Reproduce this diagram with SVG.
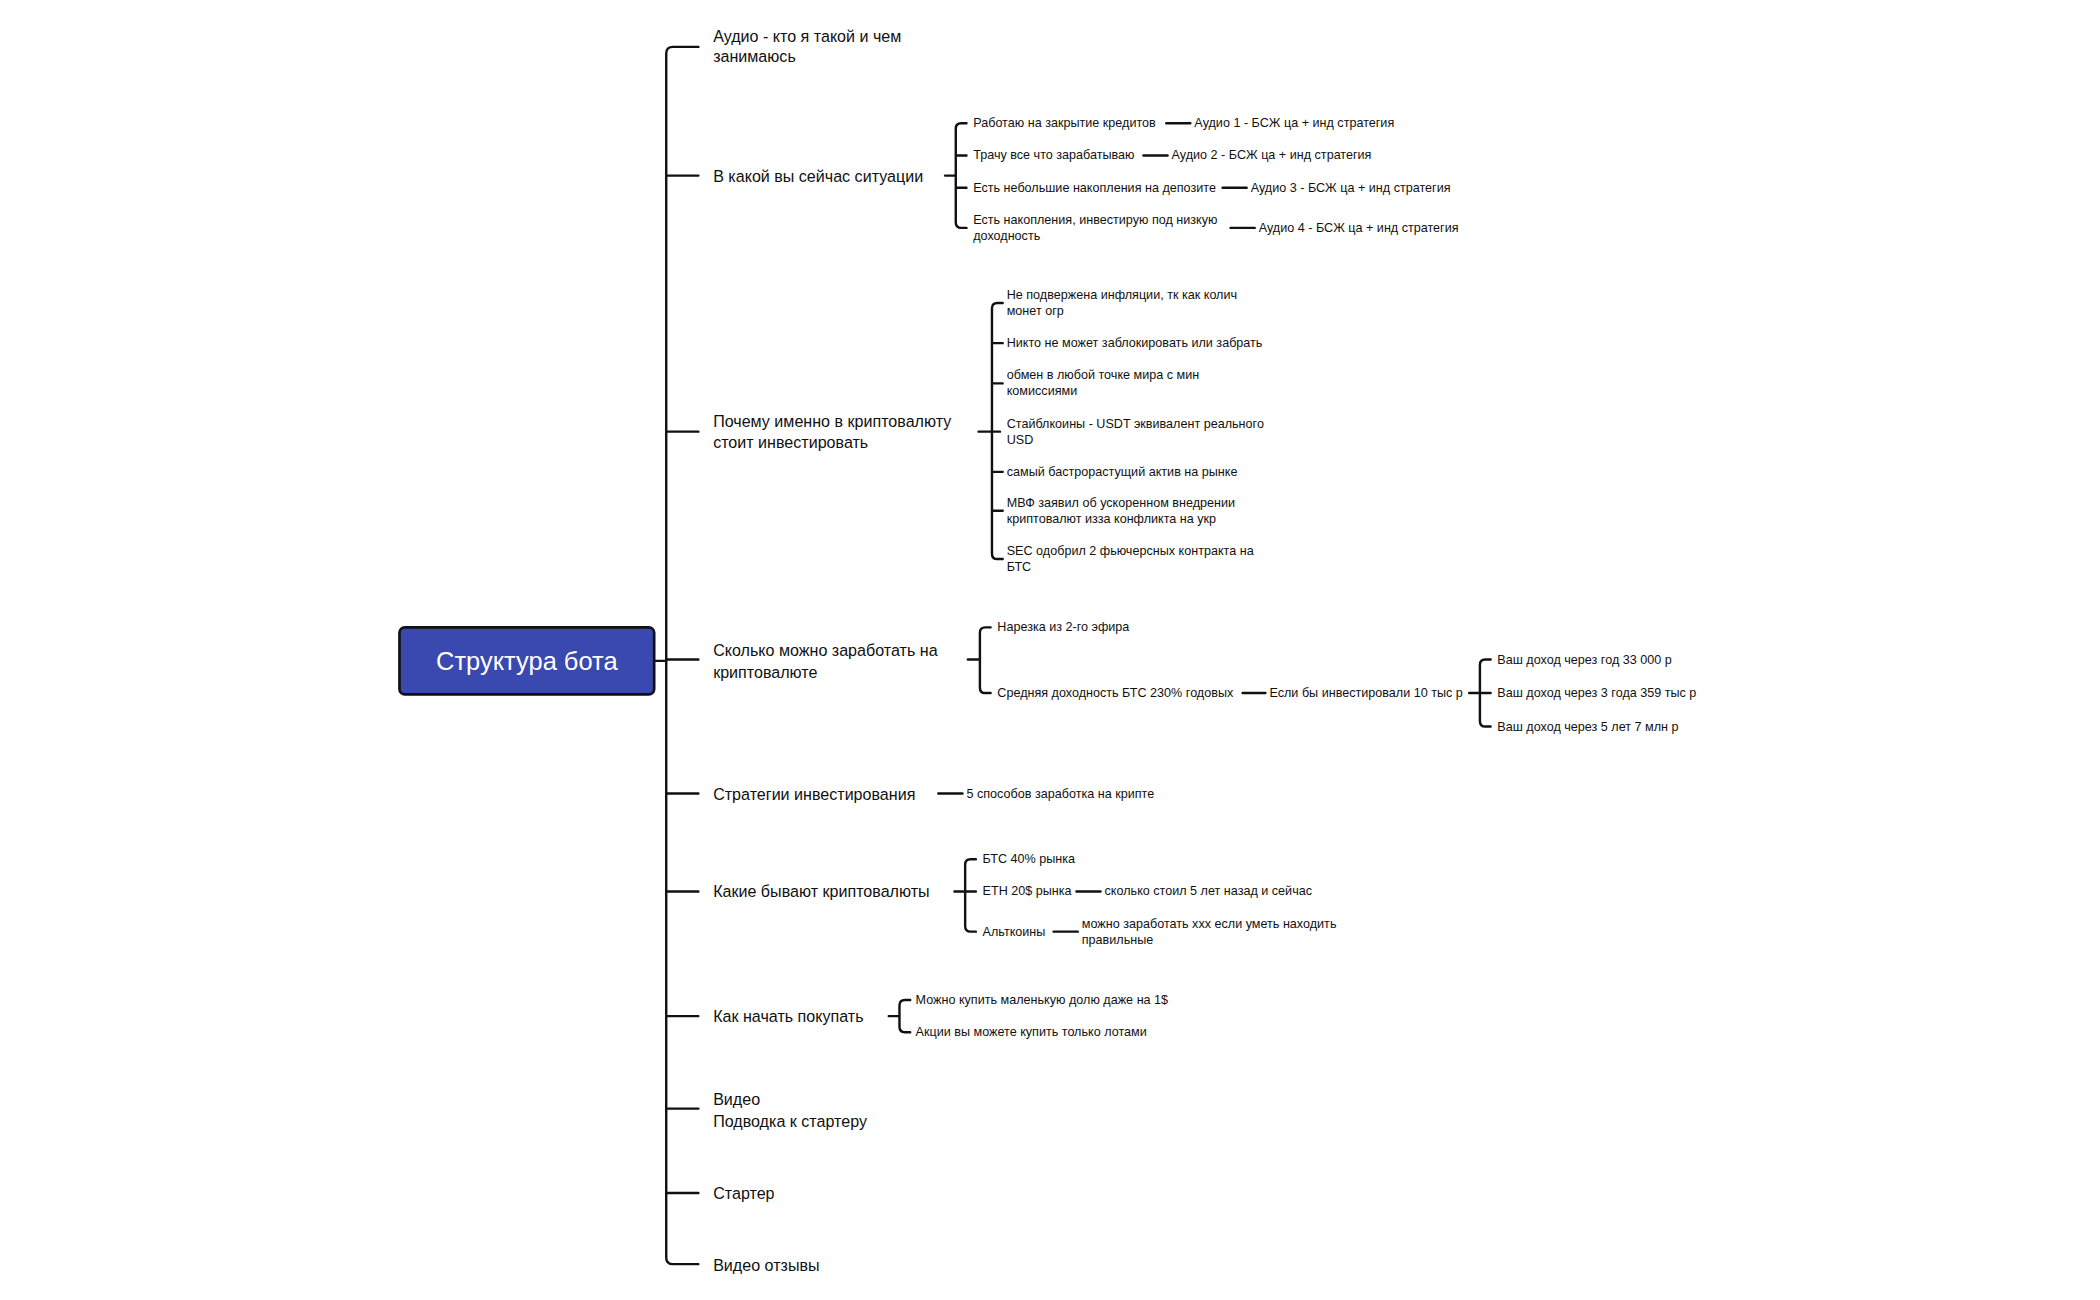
<svg xmlns="http://www.w3.org/2000/svg" width="2100" height="1300" viewBox="0 0 2100 1300">
<style>
.c{fill:none;stroke:#111;stroke-width:1.8;stroke-linecap:round;stroke-linejoin:round}
.m{font-family:"Liberation Sans",Arial,sans-serif;font-size:12px;fill:#111;dominant-baseline:central}
.s{font-family:"Liberation Sans",Arial,sans-serif;font-size:9.4px;fill:#111;dominant-baseline:central}
</style>
<rect width="2100" height="1300" fill="#fff"/>
<g transform="scale(1.3405)">
<g id="connectors">
<path class="c" d="M488,493H497"/>
<path class="c" d="M521,35H502Q497,35 497,40V938Q497,943 502,943H521"/>
<path class="c" d="M497,131H521M497,322H521M497,492H521M497,592H521M497,665H521M497,758H521M497,827H521M497,890H521"/>
<path class="c" d="M705,131H713M721,92H717Q713,92 713,96V166Q713,170 717,170H721M713,116H721M713,140H721"/>
<path class="c" d="M870,92H888M853,116H871M912,140H930M918,170H936"/>
<path class="c" d="M730,322H746M748,226H744Q740,226 740,230V413Q740,417 744,417H748M740,256H748M740,286H748M740,352H748M740,381H748"/>
<path class="c" d="M722,492H731M739,468H735Q731,468 731,472V513Q731,517 735,517H739"/>
<path class="c" d="M927,517H944M1096,517H1112M1112,492H1108Q1104,492 1104,496V538Q1104,542 1108,542H1112"/>
<path class="c" d="M700,592H718"/>
<path class="c" d="M712,665H728M728,641H724Q720,641 720,645V691Q720,695 724,695H728M803,665H821M786,695H804"/>
<path class="c" d="M663,758H671M679,746H675Q671,746 671,750V766Q671,770 675,770H679"/>
</g>
<g id="root">
<rect x="298" y="468" width="190" height="50" rx="4" fill="#3a49b0" stroke="#111" stroke-width="2"/>
<text x="393" y="493" text-anchor="middle" font-family="'Liberation Sans',Arial,sans-serif" font-size="19" fill="#fff" dominant-baseline="central">Структура бота</text>
</g>
<g id="n-audio"><text class="m" x="532" y="27">Аудио - кто я такой и чем</text><text class="m" x="532" y="42">занимаюсь</text></g>
<g id="n-situation"><text class="m" x="532" y="131">В какой вы сейчас ситуации</text></g>
<g id="n-s1"><text class="s" x="726" y="92">Работаю на закрытие кредитов</text></g>
<g id="n-s1a"><text class="s" x="891" y="92">Аудио 1 - БСЖ ца + инд стратегия</text></g>
<g id="n-s2"><text class="s" x="726" y="116">Трачу все что зарабатываю</text></g>
<g id="n-s2a"><text class="s" x="874" y="116">Аудио 2 - БСЖ ца + инд стратегия</text></g>
<g id="n-s3"><text class="s" x="726" y="140">Есть небольшие накопления на депозите</text></g>
<g id="n-s3a"><text class="s" x="933" y="140">Аудио 3 - БСЖ ца + инд стратегия</text></g>
<g id="n-s4"><text class="s" x="726" y="164">Есть накопления, инвестирую под низкую</text><text class="s" x="726" y="176">доходность</text></g>
<g id="n-s4a"><text class="s" x="939" y="170">Аудио 4 - БСЖ ца + инд стратегия</text></g>
<g id="n-why"><text class="m" x="532" y="314">Почему именно в криптовалюту</text><text class="m" x="532" y="330">стоит инвестировать</text></g>
<g id="n-w1"><text class="s" x="751" y="220">Не подвержена инфляции, тк как колич</text><text class="s" x="751" y="232">монет огр</text></g>
<g id="n-w2"><text class="s" x="751" y="256">Никто не может заблокировать или забрать</text></g>
<g id="n-w3"><text class="s" x="751" y="280">обмен в любой точке мира с мин</text><text class="s" x="751" y="292">комиссиями</text></g>
<g id="n-w4"><text class="s" x="751" y="316">Стайблкоины -  USDT эквивалент реального</text><text class="s" x="751" y="328">USD</text></g>
<g id="n-w5"><text class="s" x="751" y="352">самый бастрорастущий актив на рынке</text></g>
<g id="n-w6"><text class="s" x="751" y="375">МВФ заявил об ускоренном внедрении</text><text class="s" x="751" y="387">криптовалют изза конфликта на укр</text></g>
<g id="n-w7"><text class="s" x="751" y="411">SEC одобрил 2 фьючерсных контракта на</text><text class="s" x="751" y="423">БТС</text></g>
<g id="n-earn"><text class="m" x="532" y="485">Сколько можно заработать на</text><text class="m" x="532" y="501">криптовалюте</text></g>
<g id="n-e1"><text class="s" x="744" y="468">Нарезка из 2-го эфира</text></g>
<g id="n-e2"><text class="s" x="744" y="517">Средняя доходность БТС 230% годовых</text></g>
<g id="n-e3"><text class="s" x="947" y="517">Если бы инвестировали 10 тыс р</text></g>
<g id="n-e4"><text class="s" x="1117" y="492">Ваш доход через год 33 000 р</text></g>
<g id="n-e5"><text class="s" x="1117" y="517">Ваш доход через 3 года 359 тыс р</text></g>
<g id="n-e6"><text class="s" x="1117" y="542">Ваш доход через 5 лет 7 млн р</text></g>
<g id="n-strat"><text class="m" x="532" y="592">Стратегии инвестирования</text></g>
<g id="n-st1"><text class="s" x="721" y="592">5 способов заработка на крипте</text></g>
<g id="n-kinds"><text class="m" x="532" y="665">Какие бывают криптовалюты</text></g>
<g id="n-k1"><text class="s" x="733" y="641">БТС 40% рынка</text></g>
<g id="n-k2"><text class="s" x="733" y="665">ETH 20$ рынка</text></g>
<g id="n-k2a"><text class="s" x="824" y="665">сколько стоил 5 лет назад и сейчас</text></g>
<g id="n-k3"><text class="s" x="733" y="695">Альткоины</text></g>
<g id="n-k3a"><text class="s" x="807" y="689">можно заработать ххх если уметь находить</text><text class="s" x="807" y="701">правильные</text></g>
<g id="n-buy"><text class="m" x="532" y="758">Как начать покупать</text></g>
<g id="n-b1"><text class="s" x="683" y="746">Можно купить маленькую долю даже на 1$</text></g>
<g id="n-b2"><text class="s" x="683" y="770">Акции вы можете купить только лотами</text></g>
<g id="n-video"><text class="m" x="532" y="820">Видео</text><text class="m" x="532" y="836">Подводка к стартеру</text></g>
<g id="n-starter"><text class="m" x="532" y="890">Стартер</text></g>
<g id="n-reviews"><text class="m" x="532" y="944">Видео отзывы</text></g>
</g>
</svg>
